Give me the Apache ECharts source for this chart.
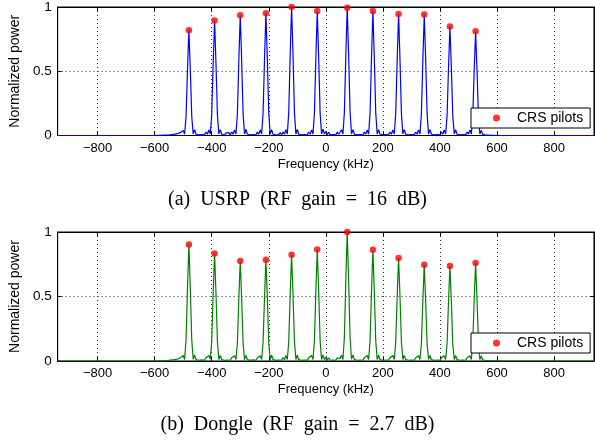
<!DOCTYPE html>
<html><head><meta charset="utf-8">
<script src="https://cdn.jsdelivr.net/npm/echarts@6/dist/echarts.min.js"></script>
<style>html,body{margin:0;padding:0;background:#fff}#c{width:595px;height:441px}</style>
</head><body><div id="c"></div>
<script>
// Frequency grid (kHz)
const freq = [-940,
 -600,-595,-590,-585,-580,-575,-570,-565,-560,-555,
 -550,-545,-540,-535,-530,-525,-520,-515,-510,-505,
 -500,-495,-490,-485,-480,-475,-470,-465,-460,-455,
 -450,-445,-440,-435,-430,-425,-420,-415,-410,-405,
 -400,-395,-390,-385,-380,-375,-370,-365,-360,-355,
 -350,-345,-340,-335,-330,-325,-320,-315,-310,-305,
 -300,-295,-290,-285,-280,-275,-270,-265,-260,-255,
 -250,-245,-240,-235,-230,-225,-220,-215,-210,-205,
 -200,-195,-190,-185,-180,-175,-170,-165,-160,-155,
 -150,-145,-140,-135,-130,-125,-120,-115,-110,-105,
 -100,-95,-90,-85,-80,-75,-70,-65,-60,-55,
 -50,-45,-40,-35,-30,-25,-20,-15,-10,-5,
 0,5,10,15,20,25,30,35,40,45,
 50,55,60,65,70,75,80,85,90,95,
 100,105,110,115,120,125,130,135,140,145,
 150,155,160,165,170,175,180,185,190,195,
 200,205,210,215,220,225,230,235,240,245,
 250,255,260,265,270,275,280,285,290,295,
 300,305,310,315,320,325,330,335,340,345,
 350,355,360,365,370,375,380,385,390,395,
 400,405,410,415,420,425,430,435,440,445,
 450,455,460,465,470,475,480,485,490,495,
 500,505,510,515,520,525,530,535,540,545,
 550,555,560,565,570,575,580,585,590,595,
 600, 940];

// Normalized power, USRP
const powerUsrp = [0,
 0,0,0.001,0,0.002,0.001,0.003,0.001,0.004,0.002,
 0.005,0.002,0.007,0.003,0.01,0.004,0.014,0.005,0.022,0.008,
 0.04,0.012,0.148,0.508,0.82,0.508,0.148,0.012,0.046,0.01,
 0.025,0.005,0.02,0.007,0.022,0.005,0.027,0.01,0.044,0.012,
 0.161,0.555,0.895,0.555,0.161,0.012,0.046,0.01,0.024,0.004,
 0.02,0.007,0.022,0.005,0.028,0.01,0.044,0.012,0.168,0.58,
 0.935,0.58,0.168,0.012,0.047,0.01,0.025,0.005,0.02,0.007,
 0.022,0.005,0.027,0.01,0.044,0.012,0.171,0.59,0.952,0.59,
 0.171,0.012,0.046,0.01,0.025,0.005,0.02,0.007,0.023,0.005,
 0.028,0.01,0.045,0.012,0.18,0.62,1.0,0.62,0.18,0.012,
 0.047,0.01,0.025,0.005,0.02,0.007,0.022,0.005,0.027,0.01,
 0.044,0.012,0.174,0.6,0.968,0.6,0.174,0.012,0.05,0.012,
 0.03,0.008,0.025,0.005,0.02,0.007,0.022,0.005,0.026,0.01,
 0.02,0.045,0.012,0.179,0.617,0.995,0.617,0.179,0.012,0.046,
 0.01,0.025,0.005,0.02,0.007,0.022,0.005,0.027,0.01,0.044,
 0.012,0.174,0.6,0.968,0.6,0.174,0.012,0.046,0.01,0.025,
 0.005,0.02,0.007,0.022,0.005,0.027,0.01,0.044,0.012,0.17,
 0.586,0.945,0.586,0.17,0.012,0.046,0.01,0.025,0.005,0.02,
 0.007,0.022,0.005,0.027,0.01,0.044,0.012,0.17,0.584,0.942,
 0.584,0.17,0.012,0.046,0.01,0.025,0.005,0.02,0.007,0.022,
 0.005,0.027,0.01,0.044,0.012,0.153,0.526,0.848,0.526,0.153,
 0.012,0.046,0.01,0.025,0.005,0.02,0.007,0.022,0.005,0.027,
 0.01,0.044,0.012,0.146,0.503,0.812,0.503,0.146,0.012,0.04,
 0.01,0.015,0.004,0.008,0.003,0.005,0.002,0.003,0.001,0.001,
 0, 0];

// Normalized power, Dongle
const powerDongle = [0,
 0,0.001,0,0.002,0.001,0.002,0.001,0.004,0.002,0.005,
 0.005,0.002,0.008,0.003,0.011,0.004,0.015,0.006,0.024,0.009,
 0.042,0.012,0.163,0.56,0.904,0.56,0.163,0.013,0.048,0.011,
 0.023,0.006,0.019,0.008,0.021,0.006,0.026,0.011,0.042,0.013,
 0.15,0.517,0.834,0.517,0.15,0.011,0.043,0.01,0.022,0.005,
 0.018,0.007,0.021,0.006,0.026,0.011,0.041,0.012,0.14,0.48,
 0.775,0.48,0.14,0.011,0.044,0.01,0.023,0.006,0.019,0.008,
 0.021,0.006,0.025,0.01,0.041,0.012,0.141,0.487,0.785,0.487,
 0.141,0.012,0.045,0.01,0.024,0.005,0.019,0.007,0.022,0.006,
 0.027,0.011,0.043,0.012,0.148,0.511,0.824,0.511,0.148,0.012,
 0.045,0.01,0.024,0.006,0.019,0.007,0.021,0.005,0.026,0.011,
 0.042,0.012,0.156,0.536,0.865,0.536,0.156,0.012,0.047,0.011,
 0.028,0.008,0.024,0.006,0.019,0.007,0.021,0.006,0.025,0.01,
 0.019,0.046,0.012,0.18,0.62,1.0,0.62,0.18,0.013,0.048,
 0.011,0.024,0.006,0.019,0.007,0.021,0.006,0.026,0.011,0.043,
 0.012,0.155,0.534,0.862,0.534,0.155,0.012,0.045,0.01,0.023,
 0.006,0.019,0.007,0.021,0.006,0.026,0.011,0.042,0.012,0.144,
 0.495,0.798,0.495,0.144,0.012,0.044,0.01,0.023,0.006,0.019,
 0.007,0.021,0.006,0.025,0.01,0.041,0.012,0.134,0.463,0.746,
 0.463,0.134,0.012,0.043,0.01,0.023,0.006,0.019,0.007,0.021,
 0.006,0.025,0.01,0.041,0.012,0.132,0.456,0.736,0.456,0.132,
 0.012,0.043,0.01,0.023,0.006,0.019,0.007,0.021,0.006,0.025,
 0.01,0.041,0.012,0.137,0.471,0.759,0.471,0.137,0.012,0.039,
 0.01,0.014,0.004,0.007,0.003,0.004,0.002,0.002,0.001,0.001,
 0, 0];

// CRS pilot positions and values
const pilotFreq = [-480,-390,-300,-210,-120,-30,75,165,255,345,435,525];
const pilotUsrp = [0.82,0.895,0.935,0.952,1.0,0.968,0.995,0.968,0.945,0.942,0.848,0.812];
const pilotDongle = [0.904,0.834,0.775,0.785,0.824,0.865,1.0,0.862,0.798,0.746,0.736,0.759];

const yTicks = [0, 0.5, 1];
const captions = ['(a)  USRP  (RF  gain  =  16  dB)', '(b)  Dongle  (RF  gain  =  2.7  dB)'];

const chart = echarts.init(document.getElementById('c'), null, {renderer: 'canvas'});
const font = 'Liberation Sans, Arial, sans-serif';
const serif = 'Liberation Serif, Times New Roman, serif';
const pair = (xs, ys) => xs.map((x, i) => [x, ys[i]]);

const grids = [
  {left: 53, right: 1, top: 6, height: 129.5, show: true, borderColor: '#000', borderWidth: 1},
  {left: 53, right: 1, top: 232, height: 129, show: true, borderColor: '#000', borderWidth: 1}
];
const xMain = (gi) => ({
  type: 'value', gridIndex: gi, min: -940, max: 940, minInterval: 200, maxInterval: 200,
  name: 'Frequency (kHz)', nameLocation: 'middle', nameGap: 22,
  nameTextStyle: {fontFamily: font, fontSize: 13, color: '#000'},
  axisLine: {onZero: false, lineStyle: {color: '#000', width: 1}},
  axisTick: {inside: true, length: 4, lineStyle: {color: '#000'}},
  axisLabel: {fontFamily: font, fontSize: 13, color: '#000', margin: 6, showMinLabel: false, showMaxLabel: false,
    formatter: v => (v === -940 || v === 940) ? '' : String(v).replace('-', '\u2212')},
  splitLine: {show: true, lineStyle: {color: '#333', type: [1, 3], width: 1}}
});
const xTop = (gi) => ({
  type: 'value', gridIndex: gi, position: 'top', min: -940, max: 940, minInterval: 200, maxInterval: 200,
  axisLine: {onZero: false, lineStyle: {color: '#000'}},
  axisTick: {inside: true, length: 4, lineStyle: {color: '#000'}},
  axisLabel: {show: false}, splitLine: {show: false}
});
const yMain = (gi) => ({
  type: 'value', gridIndex: gi, min: yTicks[0], max: yTicks[2], interval: yTicks[1] - yTicks[0],
  name: 'Normalized power', nameLocation: 'middle', nameGap: 32,
  nameTextStyle: {fontFamily: font, fontSize: 14, color: '#000'},
  axisLine: {onZero: false, lineStyle: {color: '#000'}},
  axisTick: {inside: true, length: 4, lineStyle: {color: '#000'}},
  axisLabel: {fontFamily: font, fontSize: 13.5, color: '#000', margin: 6},
  splitLine: {show: true, lineStyle: {color: '#333', type: [1, 3], width: 1}}
});
const yRight = (gi) => ({
  type: 'value', gridIndex: gi, position: 'right', min: yTicks[0], max: yTicks[2], interval: yTicks[1] - yTicks[0],
  axisLine: {onZero: false, lineStyle: {color: '#000'}},
  axisTick: {inside: true, length: 4, lineStyle: {color: '#000'}},
  axisLabel: {show: false}, splitLine: {show: false}
});
const legendBox = (top) => ({
  data: ['CRS pilots'], left: 471, top: top, orient: 'vertical',
  backgroundColor: '#fff', borderColor: '#000', borderWidth: 1, borderRadius: 0,
  padding: [3, 7, 3, 22], itemWidth: 7, itemHeight: 7, icon: 'circle',
  textStyle: {fontFamily: font, fontSize: 14, color: '#000', padding: [0, 0, 0, 12]}
});

chart.setOption({
  animation: false,
  backgroundColor: '#fff',
  grid: grids,
  xAxis: [xMain(0), xTop(0), xMain(1), xTop(1)],
  yAxis: [yMain(0), yRight(0), yMain(1), yRight(1)],
  legend: [legendBox(108), legendBox(333)],
  title: [
    {text: captions[0], left: 'center', top: 185, textStyle: {fontFamily: serif, fontSize: 20, fontWeight: 'normal', color: '#000'}},
    {text: captions[1], left: 'center', top: 410, textStyle: {fontFamily: serif, fontSize: 20, fontWeight: 'normal', color: '#000'}}
  ],
  series: [
    {type: 'line', name: 'USRP spectrum', xAxisIndex: 0, yAxisIndex: 0, data: pair(freq, powerUsrp),
     showSymbol: false, lineStyle: {color: '#0000ff', width: 1.2}, itemStyle: {color: '#0000ff'}, z: 2},
    {type: 'scatter', name: 'CRS pilots', xAxisIndex: 0, yAxisIndex: 0, data: pair(pilotFreq, pilotUsrp),
     symbol: 'circle', symbolSize: 6.5, itemStyle: {color: '#ff0000'}, z: 3},
    {type: 'line', name: 'Dongle spectrum', xAxisIndex: 2, yAxisIndex: 2, data: pair(freq, powerDongle),
     showSymbol: false, lineStyle: {color: '#008000', width: 1.2}, itemStyle: {color: '#008000'}, z: 2},
    {type: 'scatter', name: 'CRS pilots', xAxisIndex: 2, yAxisIndex: 2, data: pair(pilotFreq, pilotDongle),
     symbol: 'circle', symbolSize: 6.5, itemStyle: {color: '#ff0000'}, z: 3}
  ]
});
</script></body></html>
